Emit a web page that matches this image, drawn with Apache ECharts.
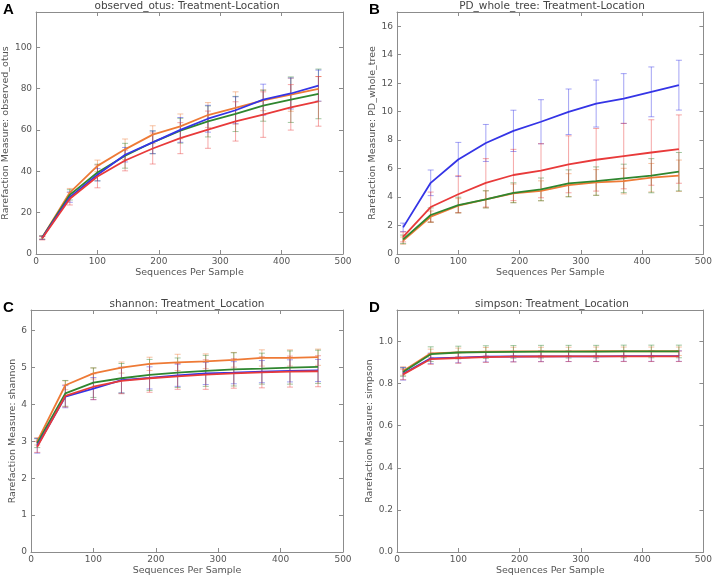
<!DOCTYPE html>
<html>
<head>
<meta charset="utf-8">
<script src="https://cdn.jsdelivr.net/npm/echarts@6/dist/echarts.min.js"></script>
<style>
  html, body { margin: 0; padding: 0; background: #fff; }
  #main { width: 715px; height: 577px; }
</style>
</head>
<body>
<div id="main"></div>
<script>
// sampling depths
var depths = [10, 55, 100, 145, 190, 235, 280, 325, 370, 415, 460];

// A: observed_otus
var otusBlue = [7.8, 27.5, 38.3, 48, 54, 60, 65.4, 69.5, 74.6, 77.6, 81.4];
var otusBlueErr = [0.8, 2.5, 3, 3.5, 5.5, 6, 6.5, 6.5, 7.5, 7.5, 7.5];
var otusOrange = [8, 29.7, 42.6, 50.6, 57.7, 61.7, 67.2, 70.6, 74.3, 77, 79.8];
var otusOrangeErr = [0.8, 2, 2.8, 5, 4.3, 6, 6, 7.8, 5, 8, 6];
var otusGreen = [8, 28.6, 39.4, 47.5, 54, 59.6, 64.1, 67.7, 71.7, 74.6, 77.4];
var otusGreenErr = [0.8, 2.5, 4, 6, 5.5, 6, 7.5, 8.5, 7.5, 11, 12];
var otusRed = [7.6, 26.7, 37.5, 45.2, 51, 56, 60.1, 64.1, 67.4, 70.9, 73.8];
var otusRedErr = [0.8, 3, 5.5, 5, 7.5, 7.5, 9, 9.5, 11, 11, 12];

// B: PD_whole_tree
var pdBlue = [1.87, 5.0, 6.64, 7.8, 8.65, 9.29, 9.99, 10.57, 10.92, 11.39, 11.86];
var pdBlueErr = [0.3, 0.9, 1.2, 1.3, 1.45, 1.55, 1.6, 1.65, 1.75, 1.75, 1.75];
var pdRed = [1.2, 3.3, 4.2, 5.0, 5.55, 5.85, 6.3, 6.62, 6.88, 7.13, 7.37];
var pdRedErr = [0.35, 1.05, 1.3, 1.7, 1.8, 1.9, 2.0, 2.2, 2.3, 2.3, 2.4];
var pdGreen = [1.03, 2.74, 3.44, 3.84, 4.3, 4.54, 4.96, 5.12, 5.31, 5.5, 5.78];
var pdGreenErr = [0.3, 0.5, 0.55, 0.6, 0.7, 0.8, 0.95, 1.0, 1.0, 1.2, 1.35];
var pdOrange = [0.94, 2.62, 3.39, 3.84, 4.26, 4.44, 4.84, 5.03, 5.12, 5.36, 5.5];
var pdOrangeErr = [0.25, 0.4, 0.5, 0.6, 0.65, 0.7, 0.8, 0.9, 0.9, 1.0, 1.1];

// C: shannon
var shBlue = [2.88, 4.21, 4.43, 4.66, 4.72, 4.79, 4.84, 4.86, 4.89, 4.91, 4.92];
var shBlueErr = [0.2, 0.3, 0.3, 0.35, 0.3, 0.3, 0.3, 0.3, 0.3, 0.3, 0.3];
var shRed = [2.85, 4.23, 4.48, 4.64, 4.71, 4.76, 4.81, 4.84, 4.87, 4.89, 4.9];
var shRedErr = [0.15, 0.3, 0.35, 0.35, 0.38, 0.35, 0.4, 0.4, 0.42, 0.42, 0.42];
var shGreen = [2.95, 4.3, 4.59, 4.71, 4.8, 4.86, 4.91, 4.95, 4.97, 5.0, 5.02];
var shGreenErr = [0.12, 0.35, 0.4, 0.4, 0.42, 0.4, 0.42, 0.45, 0.42, 0.45, 0.45];
var shOrange = [3.0, 4.52, 4.84, 5.0, 5.1, 5.14, 5.17, 5.21, 5.26, 5.26, 5.28];
var shOrangeErr = [0.1, 0.12, 0.15, 0.15, 0.18, 0.22, 0.2, 0.2, 0.22, 0.22, 0.22];

// D: simpson
var siBlue = [0.847, 0.92, 0.924, 0.928, 0.929, 0.93, 0.93, 0.93, 0.931, 0.931, 0.931];
var siBlueErr = [0.03, 0.025, 0.025, 0.025, 0.025, 0.025, 0.025, 0.025, 0.025, 0.025, 0.025];
var siRed = [0.844, 0.917, 0.922, 0.926, 0.928, 0.929, 0.93, 0.93, 0.93, 0.93, 0.93];
var siRedErr = [0.025, 0.025, 0.025, 0.025, 0.025, 0.025, 0.025, 0.025, 0.025, 0.025, 0.025];
var siGreen = [0.855, 0.94, 0.948, 0.95, 0.951, 0.952, 0.952, 0.952, 0.953, 0.953, 0.953];
var siGreenErr = [0.02, 0.035, 0.03, 0.03, 0.03, 0.03, 0.03, 0.03, 0.03, 0.03, 0.03];
var siOrange = [0.86, 0.944, 0.949, 0.952, 0.953, 0.953, 0.953, 0.954, 0.954, 0.954, 0.954];
var siOrangeErr = [0.02, 0.02, 0.02, 0.02, 0.02, 0.02, 0.02, 0.02, 0.02, 0.02, 0.02];

var COLORS = { blue: '#3434e6', red: '#e83a3a', green: '#2f862f', orange: '#ee7a36' };
var FONT = 'DejaVu Sans';

var panels = [
    { title: 'observed_otus: Treatment-Location', letter: 'A', yName: 'Rarefaction Measure: observed_otus',
      max: 117, interval: 20, dec: 0, nameGap: 20,
      grid: { left: 31, top: 12, width: 312, height: 242 },
      lines: { blue: [otusBlue, otusBlueErr], red: [otusRed, otusRedErr], green: [otusGreen, otusGreenErr], orange: [otusOrange, otusOrangeErr] } },
    { title: 'PD_whole_tree: Treatment-Location', letter: 'B', yName: 'Rarefaction Measure: PD_whole_tree',
      max: 17, interval: 2, dec: 0, nameGap: 17,
      grid: { left: 397, top: 12, width: 310, height: 242 },
      lines: { blue: [pdBlue, pdBlueErr], red: [pdRed, pdRedErr], green: [pdGreen, pdGreenErr], orange: [pdOrange, pdOrangeErr] } },
    { title: 'shannon: Treatment_Location', letter: 'C', yName: 'Rarefaction Measure: shannon',
      max: 6.56, interval: 1, dec: 0, nameGap: 13,
      grid: { left: 31, top: 310, width: 312, height: 242 },
      lines: { blue: [shBlue, shBlueErr], red: [shRed, shRedErr], green: [shGreen, shGreenErr], orange: [shOrange, shOrangeErr] } },
    { title: 'simpson: Treatment_Location', letter: 'D', yName: 'Rarefaction Measure: simpson',
      max: 1.15, interval: 0.2, dec: 1, nameGap: 19,
      grid: { left: 397, top: 310, width: 310, height: 242 },
      lines: { blue: [siBlue, siBlueErr], red: [siRed, siRedErr], green: [siGreen, siGreenErr], orange: [siOrange, siOrangeErr] } }
];

// draw order: orange, green, blue, red on top
var order = ['orange', 'green', 'blue', 'red'];

function errorBars(params, api) {
    var x = api.value(0);
    var lo = api.coord([x, api.value(1)]);
    var hi = api.coord([x, api.value(2)]);
    var c = api.visual('color');
    var st = { stroke: c, lineWidth: 1, opacity: 0.45 };
    return {
        type: 'group',
        children: [
            { type: 'line', shape: { x1: lo[0], y1: lo[1], x2: hi[0], y2: hi[1] }, style: st },
            { type: 'line', shape: { x1: lo[0] - 3, y1: lo[1], x2: lo[0] + 3, y2: lo[1] }, style: st },
            { type: 'line', shape: { x1: hi[0] - 3, y1: hi[1], x2: hi[0] + 3, y2: hi[1] }, style: st }
        ]
    };
}

var grids = [], xAxes = [], yAxes = [], series = [], graphics = [];
var axisLineStyle = { onZero: false, lineStyle: { color: '#8c8c8c', width: 1 } };
var tickStyle = { inside: true, length: 4, lineStyle: { color: '#8c8c8c' } };
var labelStyle = { color: '#555', fontSize: 9, fontFamily: FONT };

panels.forEach(function (p, i) {
    grids.push(p.grid);
    // bottom + left axes with labels
    xAxes.push({
        type: 'value', gridIndex: i, min: 0, max: 500, interval: 100,
        name: 'Sequences Per Sample', nameLocation: 'middle', nameGap: 14,
        nameTextStyle: { color: '#555', fontSize: 9.5, fontFamily: FONT },
        axisLine: axisLineStyle, axisTick: tickStyle,
        axisLabel: Object.assign({ margin: 3 }, labelStyle),
        splitLine: { show: false }
    });
    yAxes.push({
        type: 'value', gridIndex: i, min: 0, max: p.max, interval: p.interval,
        name: p.yName, nameLocation: 'middle', nameGap: p.nameGap,
        nameTextStyle: { color: '#555', fontSize: 9.5, fontFamily: FONT },
        axisLine: axisLineStyle, axisTick: tickStyle,
        axisLabel: Object.assign({ margin: 4, showMaxLabel: false,
            formatter: function (v) { return v.toFixed(p.dec); } }, labelStyle),
        splitLine: { show: false }
    });
    graphics.push({
        type: 'text', x: p.grid.left + p.grid.width / 2, y: p.grid.top - 6,
        style: { text: p.title, align: 'center', verticalAlign: 'middle', fill: '#444', fontSize: 10.5, fontFamily: FONT }
    });
    graphics.push({
        type: 'text', x: p.grid.left - 28, y: p.grid.top - 10,
        style: { text: p.letter, fill: '#000', fontSize: 15, fontWeight: 'bold', fontFamily: 'Liberation Sans' }
    });
});

// mirrored top / right axes to close the frame
panels.forEach(function (p, i) {
    xAxes.push({
        type: 'value', gridIndex: i, min: 0, max: 500, interval: 100, position: 'top',
        axisLine: axisLineStyle, axisTick: tickStyle, axisLabel: { show: false }, splitLine: { show: false }
    });
    yAxes.push({
        type: 'value', gridIndex: i, min: 0, max: p.max, interval: p.interval, position: 'right',
        axisLine: axisLineStyle, axisTick: tickStyle, axisLabel: { show: false }, splitLine: { show: false }
    });
});

panels.forEach(function (p, i) {
    order.forEach(function (key) {
        var mean = p.lines[key][0], err = p.lines[key][1];
        series.push({
            type: 'custom', xAxisIndex: i, yAxisIndex: i,
            renderItem: errorBars, itemStyle: { color: COLORS[key] },
            encode: { x: 0, y: [1, 2] }, silent: true,
            data: depths.map(function (d, k) { return [d, mean[k] - err[k], mean[k] + err[k]]; })
        });
    });
    order.forEach(function (key) {
        var mean = p.lines[key][0];
        series.push({
            type: 'line', xAxisIndex: i, yAxisIndex: i,
            data: depths.map(function (d, k) { return [d, mean[k]]; }),
            showSymbol: false, symbol: 'none', silent: true,
            lineStyle: { color: COLORS[key], width: 1.8 }
        });
    });
});

var chart = echarts.init(document.getElementById('main'), null, { renderer: 'canvas' });
chart.setOption({
    animation: false,
    backgroundColor: '#fff',
    grid: grids,
    xAxis: xAxes,
    yAxis: yAxes,
    graphic: graphics,
    series: series
});
</script>
</body>
</html>
